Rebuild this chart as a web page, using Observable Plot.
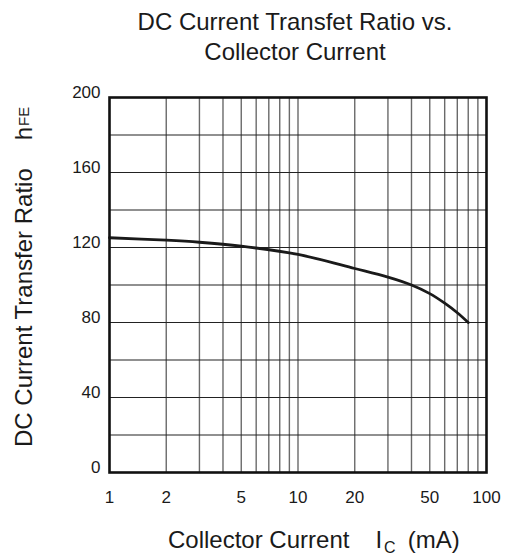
<!DOCTYPE html>
<html>
<head>
<meta charset="utf-8">
<script src="https://cdn.jsdelivr.net/npm/d3@7"></script>
<script src="https://cdn.jsdelivr.net/npm/@observablehq/plot@0.6"></script>
<style>
  html, body { margin: 0; padding: 0; background: #fff; }
  #chart svg { display: block; }
</style>
</head>
<body>
<div id="chart"></div>
<script>
// Data
const current = [1, 2, 3, 5, 10, 20, 30, 40, 50, 60, 70, 80];           // I_C (mA)
const hfe     = [125.2, 123.9, 122.8, 120.7, 116.3, 108.8, 104.2, 100, 95.4, 90.3, 85.2, 80]; // h_FE
const xTicks  = [1, 2, 5, 10, 20, 50, 100];
const xGrid   = [2, 3, 4, 5, 6, 7, 8, 9, 10, 20, 30, 40, 50, 60, 70, 80, 90];
const yTicks  = [0, 40, 80, 120, 160, 200];
const yGrid   = [20, 40, 60, 80, 100, 120, 140, 160, 180];

const titleLines = ["DC Current Transfet Ratio vs.", "Collector Current"];

const data = current.map((c, i) => ({ic: c, h: hfe[i]}));
const FONT = "'Liberation Sans', Arial, Helvetica, sans-serif";

const plot = Plot.plot({
  width: 507,
  height: 555,
  marginLeft: 109,
  marginRight: 21,
  marginTop: 97,
  marginBottom: 83,
  style: {fontFamily: FONT, background: "#fff", color: "#1a1a1a"},
  x: {type: "log", domain: [1, 100]},
  y: {domain: [0, 200]},
  marks: [
    Plot.ruleX(xGrid, {stroke: "#6a6a6a", strokeWidth: 1.4}),
    Plot.ruleY(yGrid, {stroke: "#222", strokeWidth: 1.1}),
    Plot.line(data, {x: "ic", y: "h", stroke: "#1a1a1a", strokeWidth: 2.8, curve: "catmull-rom"}),
    Plot.frame({stroke: "#111", strokeWidth: 2.6}),
    Plot.axisX({ticks: xTicks, tickSize: 0, tickPadding: 18, tickFormat: d => String(d), fontSize: 17, label: null}),
    Plot.axisY({ticks: yTicks, tickSize: 0, tickPadding: 9, dy: -5, tickFormat: d => String(d), fontSize: 17, label: null})
  ]
});

document.getElementById("chart").appendChild(plot);

const svg = d3.select(plot);
// Title
const t = svg.append("text")
  .attr("text-anchor", "middle")
  .attr("font-family", FONT)
  .attr("font-size", 24)
  .attr("fill", "#1a1a1a");
titleLines.forEach((line, i) => {
  t.append("tspan").attr("x", 295).attr("y", 30 + i * 30).text(line);
});

// X axis title
const xt = svg.append("text")
  .attr("text-anchor", "start")
  .attr("x", 168).attr("y", 548)
  .attr("font-family", FONT)
  .attr("font-size", 24)
  .attr("fill", "#1a1a1a");
xt.append("tspan").text("Collector Current");
xt.append("tspan").attr("dx", 26).text("I");
xt.append("tspan").attr("font-size", 16).attr("dy", 5).attr("dx", 2).text("C");
xt.append("tspan").attr("dy", -5).attr("dx", 12).text("(mA)");

// Y axis title
const yt = svg.append("text")
  .attr("text-anchor", "start")
  .attr("transform", "translate(32,447) rotate(-90)")
  .attr("x", 0).attr("y", 0)
  .attr("font-family", FONT)
  .attr("font-size", 24)
  .attr("fill", "#1a1a1a");
yt.append("tspan").text("DC Current Transfer Ratio");
yt.append("tspan").attr("dx", 28).text("h");
yt.append("tspan").attr("font-size", 15).attr("dy", -3).attr("dx", 1).text("FE");
</script>
</body>
</html>
